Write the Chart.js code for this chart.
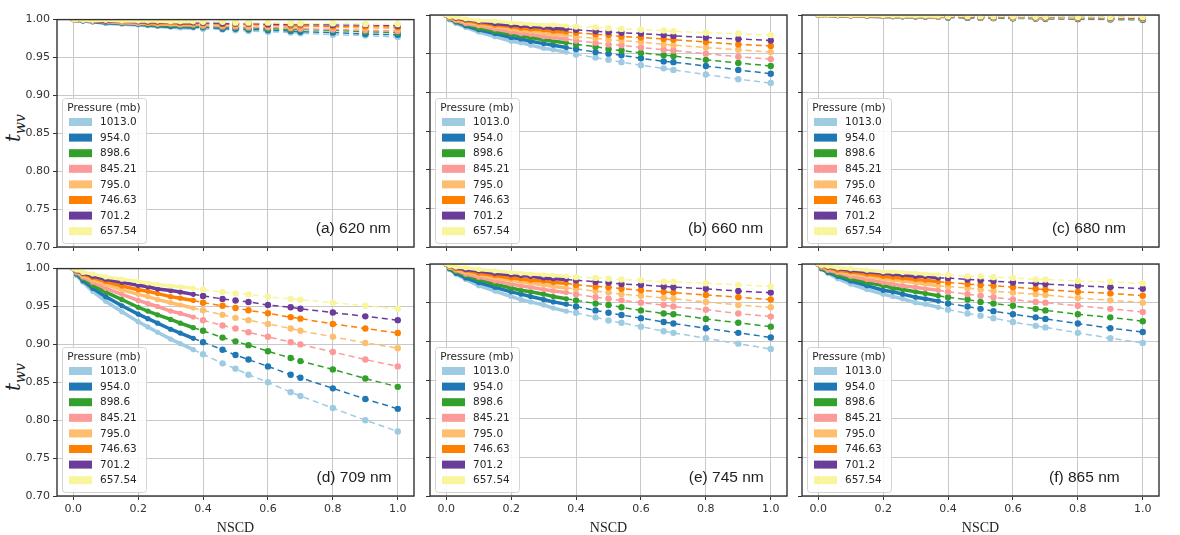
<!DOCTYPE html>
<html>
<head>
<meta charset="utf-8">
<script src="https://cdn.jsdelivr.net/npm/chart.js@4.4.1/dist/chart.umd.min.js"></script>
<style>
body { margin: 0; background: #fff; width: 1180px; height: 535px; overflow: hidden; position: relative; }
canvas { position: absolute; }
.ylab { position: absolute; transform: translate(-50%, -50%) rotate(-90deg); font-family: "DejaVu Serif", serif; font-style: italic; font-size: 20px; color: #222; white-space: nowrap; }
.ylab sub { font-size: 14px; }
</style>
</head>
<body>
<div class="ylab" style="left:14px; top:128px;">t<sub>wv</sub></div>
<div class="ylab" style="left:14px; top:377px;">t<sub>wv</sub></div>
<canvas id="c0"></canvas>
<canvas id="c1"></canvas>
<canvas id="c2"></canvas>
<canvas id="c3"></canvas>
<canvas id="c4"></canvas>
<canvas id="c5"></canvas>
<script>
// wspolne osie
const NSCD = [0, 0.01, 0.03, 0.06, 0.1, 0.15, 0.2, 0.23, 0.26, 0.3, 0.33, 0.37, 0.4, 0.46, 0.5, 0.54, 0.6, 0.67, 0.7, 0.8, 0.9, 1.0];
const PRESSURES = ["1013.0", "954.0", "898.6", "845.21", "795.0", "746.63", "701.2", "657.54"];
const COLORS = ["#9fcbe2", "#1f78b4", "#33a02c", "#fb9a99", "#fdbf6f", "#ff7f00", "#6a3d9a", "#f9f59c"];
const X_TICKS = [0, 0.2, 0.4, 0.6, 0.8, 1.0];
const Y_TICKS = [0.70, 0.75, 0.80, 0.85, 0.90, 0.95, 1.00];

// t_wv, one row per pressure (same order as PRESSURES)
const TWV_620 = [
  [1, 0.999, 0.998, 0.997, 0.995, 0.994, 0.993, 0.992, 0.991, 0.990, 0.989, 0.989, 0.988, 0.987, 0.986, 0.985, 0.984, 0.983, 0.982, 0.980, 0.979, 0.977],
  [1, 0.999, 0.998, 0.997, 0.996, 0.995, 0.994, 0.993, 0.992, 0.991, 0.991, 0.990, 0.990, 0.988, 0.988, 0.987, 0.986, 0.985, 0.984, 0.983, 0.981, 0.980],
  [1, 0.999, 0.999, 0.998, 0.997, 0.996, 0.995, 0.994, 0.993, 0.993, 0.992, 0.992, 0.991, 0.990, 0.990, 0.989, 0.988, 0.987, 0.987, 0.986, 0.984, 0.983],
  [1, 0.999, 0.999, 0.998, 0.997, 0.996, 0.995, 0.995, 0.994, 0.994, 0.993, 0.993, 0.992, 0.991, 0.991, 0.990, 0.990, 0.989, 0.988, 0.987, 0.986, 0.985],
  [1, 1.000, 0.999, 0.998, 0.998, 0.997, 0.996, 0.996, 0.995, 0.995, 0.994, 0.994, 0.994, 0.993, 0.993, 0.992, 0.992, 0.991, 0.991, 0.990, 0.989, 0.988],
  [1, 1.000, 0.999, 0.999, 0.998, 0.997, 0.997, 0.996, 0.996, 0.996, 0.995, 0.995, 0.995, 0.994, 0.994, 0.994, 0.993, 0.992, 0.992, 0.991, 0.991, 0.990],
  [1, 1.000, 0.999, 0.999, 0.998, 0.998, 0.997, 0.997, 0.997, 0.997, 0.996, 0.996, 0.996, 0.995, 0.995, 0.995, 0.994, 0.994, 0.994, 0.993, 0.993, 0.992],
  [1, 1.000, 0.999, 0.999, 0.999, 0.998, 0.998, 0.998, 0.998, 0.997, 0.997, 0.997, 0.997, 0.997, 0.996, 0.996, 0.996, 0.995, 0.995, 0.995, 0.994, 0.994]
];
const TWV_660 = [
  [1, 0.994, 0.989, 0.984, 0.978, 0.972, 0.966, 0.964, 0.961, 0.957, 0.955, 0.952, 0.949, 0.945, 0.942, 0.939, 0.935, 0.931, 0.929, 0.923, 0.917, 0.912],
  [1, 0.995, 0.991, 0.986, 0.981, 0.976, 0.971, 0.969, 0.966, 0.963, 0.961, 0.958, 0.956, 0.952, 0.950, 0.948, 0.944, 0.940, 0.939, 0.934, 0.929, 0.924],
  [1, 0.996, 0.992, 0.988, 0.983, 0.979, 0.975, 0.973, 0.971, 0.968, 0.966, 0.964, 0.962, 0.959, 0.956, 0.954, 0.951, 0.948, 0.947, 0.942, 0.938, 0.934],
  [1, 0.996, 0.993, 0.989, 0.986, 0.982, 0.978, 0.976, 0.975, 0.972, 0.971, 0.969, 0.967, 0.964, 0.962, 0.961, 0.958, 0.955, 0.954, 0.950, 0.946, 0.943],
  [1, 0.997, 0.994, 0.991, 0.988, 0.985, 0.982, 0.980, 0.979, 0.977, 0.975, 0.974, 0.972, 0.970, 0.968, 0.967, 0.965, 0.962, 0.961, 0.958, 0.955, 0.952],
  [1, 0.997, 0.995, 0.993, 0.990, 0.987, 0.985, 0.983, 0.982, 0.981, 0.979, 0.978, 0.977, 0.975, 0.974, 0.972, 0.971, 0.969, 0.968, 0.965, 0.962, 0.960],
  [1, 0.998, 0.996, 0.994, 0.992, 0.989, 0.987, 0.986, 0.985, 0.984, 0.983, 0.982, 0.981, 0.979, 0.978, 0.977, 0.976, 0.974, 0.973, 0.971, 0.969, 0.967],
  [1, 0.998, 0.997, 0.995, 0.993, 0.992, 0.990, 0.989, 0.988, 0.987, 0.987, 0.986, 0.985, 0.984, 0.983, 0.982, 0.981, 0.980, 0.979, 0.977, 0.976, 0.974]
];
const TWV_680 = [
  [1, 0.9997, 0.9994, 0.9991, 0.9987, 0.9983, 0.9979, 0.9977, 0.9975, 0.9972, 0.9970, 0.9968, 0.9966, 0.9962, 0.9960, 0.9958, 0.9955, 0.9951, 0.9949, 0.9944, 0.9940, 0.9935],
  [1, 0.9998, 0.9995, 0.9992, 0.9988, 0.9984, 0.9981, 0.9979, 0.9977, 0.9974, 0.9972, 0.9970, 0.9968, 0.9965, 0.9963, 0.9961, 0.9958, 0.9955, 0.9953, 0.9949, 0.9944, 0.9940],
  [1, 0.9998, 0.9995, 0.9992, 0.9989, 0.9985, 0.9982, 0.9980, 0.9979, 0.9976, 0.9975, 0.9973, 0.9971, 0.9968, 0.9966, 0.9964, 0.9962, 0.9958, 0.9957, 0.9953, 0.9949, 0.9945],
  [1, 0.9998, 0.9996, 0.9993, 0.9990, 0.9987, 0.9984, 0.9982, 0.9981, 0.9978, 0.9977, 0.9975, 0.9974, 0.9971, 0.9969, 0.9968, 0.9965, 0.9962, 0.9961, 0.9957, 0.9954, 0.9950],
  [1, 0.9998, 0.9996, 0.9994, 0.9991, 0.9988, 0.9985, 0.9984, 0.9982, 0.9981, 0.9979, 0.9978, 0.9976, 0.9974, 0.9972, 0.9971, 0.9969, 0.9966, 0.9965, 0.9962, 0.9958, 0.9955],
  [1, 0.9998, 0.9997, 0.9994, 0.9992, 0.9989, 0.9987, 0.9986, 0.9984, 0.9983, 0.9982, 0.9980, 0.9979, 0.9977, 0.9975, 0.9974, 0.9972, 0.9970, 0.9969, 0.9966, 0.9963, 0.9960],
  [1, 0.9999, 0.9997, 0.9995, 0.9993, 0.9991, 0.9989, 0.9988, 0.9986, 0.9985, 0.9984, 0.9983, 0.9982, 0.9980, 0.9978, 0.9977, 0.9976, 0.9974, 0.9973, 0.9970, 0.9967, 0.9965],
  [1, 0.9999, 0.9997, 0.9996, 0.9994, 0.9992, 0.9990, 0.9989, 0.9988, 0.9987, 0.9986, 0.9985, 0.9984, 0.9983, 0.9982, 0.9981, 0.9979, 0.9977, 0.9977, 0.9974, 0.9972, 0.9970]
];
const TWV_709 = [
  [1, 0.991, 0.982, 0.970, 0.957, 0.943, 0.930, 0.923, 0.916, 0.907, 0.901, 0.893, 0.887, 0.875, 0.868, 0.860, 0.850, 0.837, 0.832, 0.816, 0.800, 0.785],
  [1, 0.993, 0.984, 0.974, 0.963, 0.951, 0.940, 0.934, 0.928, 0.920, 0.915, 0.908, 0.903, 0.893, 0.886, 0.880, 0.871, 0.860, 0.856, 0.842, 0.828, 0.815],
  [1, 0.994, 0.987, 0.978, 0.969, 0.959, 0.949, 0.944, 0.939, 0.933, 0.928, 0.922, 0.918, 0.909, 0.904, 0.899, 0.891, 0.882, 0.878, 0.867, 0.855, 0.844],
  [1, 0.995, 0.989, 0.982, 0.974, 0.966, 0.958, 0.954, 0.950, 0.944, 0.941, 0.936, 0.932, 0.925, 0.921, 0.916, 0.910, 0.903, 0.900, 0.890, 0.880, 0.871],
  [1, 0.996, 0.991, 0.985, 0.979, 0.972, 0.966, 0.963, 0.959, 0.955, 0.952, 0.948, 0.945, 0.939, 0.935, 0.932, 0.927, 0.921, 0.918, 0.910, 0.902, 0.895],
  [1, 0.997, 0.993, 0.988, 0.983, 0.977, 0.972, 0.970, 0.967, 0.963, 0.961, 0.958, 0.955, 0.951, 0.948, 0.945, 0.941, 0.936, 0.934, 0.927, 0.921, 0.915],
  [1, 0.997, 0.994, 0.990, 0.986, 0.982, 0.978, 0.976, 0.973, 0.971, 0.969, 0.966, 0.964, 0.960, 0.958, 0.956, 0.952, 0.949, 0.947, 0.942, 0.937, 0.932],
  [1, 0.998, 0.995, 0.993, 0.989, 0.986, 0.983, 0.981, 0.979, 0.977, 0.976, 0.974, 0.972, 0.969, 0.967, 0.966, 0.963, 0.960, 0.959, 0.955, 0.951, 0.947]
];
const TWV_745 = [
  [1, 0.993, 0.987, 0.980, 0.972, 0.965, 0.958, 0.954, 0.951, 0.947, 0.943, 0.939, 0.937, 0.931, 0.927, 0.924, 0.919, 0.913, 0.911, 0.904, 0.897, 0.890],
  [1, 0.994, 0.988, 0.982, 0.976, 0.970, 0.964, 0.961, 0.958, 0.954, 0.951, 0.948, 0.945, 0.940, 0.937, 0.934, 0.930, 0.925, 0.923, 0.917, 0.911, 0.905],
  [1, 0.995, 0.990, 0.985, 0.980, 0.974, 0.969, 0.966, 0.964, 0.961, 0.958, 0.955, 0.953, 0.949, 0.947, 0.944, 0.940, 0.936, 0.935, 0.929, 0.924, 0.919],
  [1, 0.996, 0.992, 0.987, 0.983, 0.978, 0.974, 0.972, 0.970, 0.967, 0.965, 0.963, 0.961, 0.957, 0.955, 0.953, 0.950, 0.947, 0.945, 0.941, 0.936, 0.932],
  [1, 0.996, 0.993, 0.990, 0.986, 0.982, 0.979, 0.977, 0.975, 0.973, 0.971, 0.969, 0.968, 0.965, 0.963, 0.961, 0.959, 0.956, 0.955, 0.951, 0.947, 0.944],
  [1, 0.997, 0.994, 0.992, 0.988, 0.985, 0.982, 0.981, 0.979, 0.978, 0.976, 0.975, 0.973, 0.971, 0.970, 0.968, 0.966, 0.964, 0.963, 0.960, 0.957, 0.954],
  [1, 0.998, 0.995, 0.993, 0.991, 0.988, 0.986, 0.985, 0.984, 0.982, 0.981, 0.980, 0.979, 0.977, 0.976, 0.974, 0.973, 0.971, 0.970, 0.968, 0.965, 0.963],
  [1, 0.998, 0.996, 0.995, 0.993, 0.991, 0.989, 0.988, 0.987, 0.986, 0.985, 0.984, 0.983, 0.982, 0.981, 0.980, 0.979, 0.977, 0.977, 0.975, 0.973, 0.971]
];
const TWV_865 = [
  [1, 0.994, 0.988, 0.981, 0.974, 0.967, 0.961, 0.958, 0.955, 0.950, 0.948, 0.944, 0.941, 0.936, 0.933, 0.930, 0.925, 0.920, 0.918, 0.911, 0.904, 0.898],
  [1, 0.994, 0.989, 0.984, 0.978, 0.972, 0.966, 0.964, 0.961, 0.957, 0.955, 0.952, 0.949, 0.945, 0.942, 0.939, 0.935, 0.931, 0.929, 0.923, 0.917, 0.912],
  [1, 0.995, 0.991, 0.986, 0.981, 0.976, 0.972, 0.969, 0.967, 0.964, 0.962, 0.959, 0.957, 0.954, 0.951, 0.949, 0.946, 0.942, 0.940, 0.935, 0.931, 0.926],
  [1, 0.996, 0.992, 0.989, 0.984, 0.980, 0.976, 0.974, 0.972, 0.970, 0.968, 0.966, 0.964, 0.961, 0.959, 0.957, 0.954, 0.951, 0.950, 0.946, 0.942, 0.938],
  [1, 0.997, 0.994, 0.991, 0.987, 0.984, 0.981, 0.979, 0.978, 0.976, 0.974, 0.972, 0.971, 0.969, 0.967, 0.965, 0.963, 0.961, 0.960, 0.956, 0.953, 0.950],
  [1, 0.997, 0.995, 0.992, 0.990, 0.987, 0.984, 0.983, 0.982, 0.980, 0.979, 0.977, 0.976, 0.974, 0.973, 0.972, 0.970, 0.968, 0.967, 0.964, 0.962, 0.959],
  [1, 0.998, 0.996, 0.994, 0.992, 0.990, 0.988, 0.987, 0.986, 0.984, 0.984, 0.982, 0.982, 0.980, 0.979, 0.978, 0.976, 0.975, 0.974, 0.972, 0.970, 0.968],
  [1, 0.998, 0.997, 0.995, 0.994, 0.992, 0.990, 0.990, 0.989, 0.988, 0.987, 0.986, 0.986, 0.984, 0.984, 0.983, 0.982, 0.980, 0.980, 0.978, 0.977, 0.975]
];

// uklad paneli (ramki osi w px)
const COL_LEFT = [57, 430, 802];
const ROW_TOP = [15, 264];
const FRAME_W = 357, FRAME_H = 232;
const Y_AXIS_W = 57, PAD = 5;

const panels = [
  { id: "c0", data: TWV_620, label: "(a) 620 nm", labelX: 0.725, col: 0, row: 0 },
  { id: "c1", data: TWV_660, label: "(b) 660 nm", labelX: 0.723, col: 1, row: 0 },
  { id: "c2", data: TWV_680, label: "(c) 680 nm", labelX: 0.700, col: 2, row: 0 },
  { id: "c3", data: TWV_709, label: "(d) 709 nm", labelX: 0.727, col: 0, row: 1 },
  { id: "c4", data: TWV_745, label: "(e) 745 nm", labelX: 0.725, col: 1, row: 1 },
  { id: "c5", data: TWV_865, label: "(f) 865 nm", labelX: 0.692, col: 2, row: 1 }
];

function drawLegend(ctx, area) {
  const w = 84, h = 145;
  const x0 = area.left + 5, y0 = area.bottom - 4 - h;
  ctx.save();
  ctx.fillStyle = "rgba(255,255,255,0.85)";
  ctx.strokeStyle = "#d4d4d4";
  ctx.lineWidth = 1;
  ctx.beginPath();
  ctx.roundRect(x0 + 0.5, y0 + 0.5, w, h, 3);
  ctx.fill();
  ctx.stroke();
  ctx.fillStyle = "#262626";
  ctx.font = '10.5px "DejaVu Sans"';
  ctx.textAlign = "center";
  ctx.textBaseline = "middle";
  ctx.fillText("Pressure (mb)", x0 + w / 2, y0 + 10);
  ctx.textAlign = "left";
  PRESSURES.forEach((p, i) => {
    const cy = y0 + 24 + i * 15.6;
    ctx.fillStyle = COLORS[i];
    ctx.fillRect(x0 + 7, cy - 4, 23, 8);
    ctx.fillStyle = "#262626";
    ctx.fillText(p, x0 + 38, cy + 0.5);
  });
  ctx.restore();
}

function decoPlugin(panel) {
  return {
    id: "deco" + panel.id,
    afterDraw(chart) {
      const ctx = chart.ctx;
      const a = chart.chartArea;
      ctx.save();
      ctx.strokeStyle = "#333";
      ctx.lineWidth = 1.4;
      ctx.strokeRect(a.left, a.top, a.right - a.left, a.bottom - a.top);
      ctx.fillStyle = "#1e1e1e";
      ctx.font = '15.5px "Liberation Sans"';
      ctx.textAlign = "left";
      ctx.textBaseline = "middle";
      ctx.fillText(panel.label, a.left + panel.labelX * (a.right - a.left), a.bottom - 18);
      ctx.restore();
      drawLegend(ctx, a);
    }
  };
}

panels.forEach(panel => {
  const canvas = document.getElementById(panel.id);
  const xAxisH = panel.row === 1 ? 42 : 10;
  canvas.width = Y_AXIS_W + FRAME_W + PAD;
  canvas.height = PAD + FRAME_H + xAxisH;
  canvas.style.left = (COL_LEFT[panel.col] - Y_AXIS_W) + "px";
  canvas.style.top = (ROW_TOP[panel.row] - PAD) + "px";

  const datasets = PRESSURES.map((p, i) => ({
    label: p,
    data: NSCD.map((x, j) => ({ x: x, y: panel.data[i][j] })),
    borderColor: COLORS[i],
    backgroundColor: COLORS[i],
    borderWidth: 1.5,
    borderDash: [6, 4],
    pointRadius: c => (c.raw && c.raw.x <= 0.37) ? 2.6 : 3.2,
    pointBorderWidth: 0,
    pointHoverRadius: 0,
    tension: 0,
    fill: false,
    order: PRESSURES.length - i,
    segment: {
      borderDash: s => s.p1.parsed.x <= 0.37 ? [] : undefined,
      borderWidth: s => s.p1.parsed.x <= 0.37 ? 3.5 : undefined
    }
  }));

  new Chart(canvas.getContext("2d"), {
    type: "line",
    data: { datasets: datasets },
    options: {
      responsive: false,
      animation: false,
      devicePixelRatio: 1,
      layout: { padding: { top: PAD, right: PAD, left: 0, bottom: 0 } },
      plugins: { legend: { display: false }, tooltip: { enabled: false } },
      scales: {
        x: {
          type: "linear",
          min: -0.05,
          max: 1.05,
          afterBuildTicks: s => { s.ticks = X_TICKS.map(v => ({ value: v })); },
          afterFit: s => { s.height = xAxisH; },
          border: { display: false },
          grid: { color: "#c8c8c8", lineWidth: 1, drawTicks: true, tickLength: 4, tickColor: "#333" },
          ticks: {
            display: panel.row === 1,
            autoSkip: false,
            maxRotation: 0,
            padding: 3,
            color: "#333",
            font: { family: "DejaVu Sans", size: 11 },
            callback: v => Number(v).toFixed(1)
          },
          title: {
            display: panel.row === 1,
            text: "NSCD",
            color: "#222",
            font: { family: "Liberation Serif", size: 14 },
            padding: { top: 0, bottom: 1 }
          }
        },
        y: {
          min: 0.70,
          max: 1.00,
          afterBuildTicks: s => { s.ticks = Y_TICKS.map(v => ({ value: v })); },
          afterFit: s => { s.width = Y_AXIS_W; },
          border: { display: false },
          grid: { color: "#c8c8c8", lineWidth: 1, drawTicks: true, tickLength: 4, tickColor: "#333" },
          ticks: {
            display: panel.col === 0,
            padding: 3,
            color: "#333",
            font: { family: "DejaVu Sans", size: 11 },
            callback: v => Number(v).toFixed(2)
          }
        }
      }
    },
    plugins: [decoPlugin(panel)]
  });
});
</script>
</body>
</html>
